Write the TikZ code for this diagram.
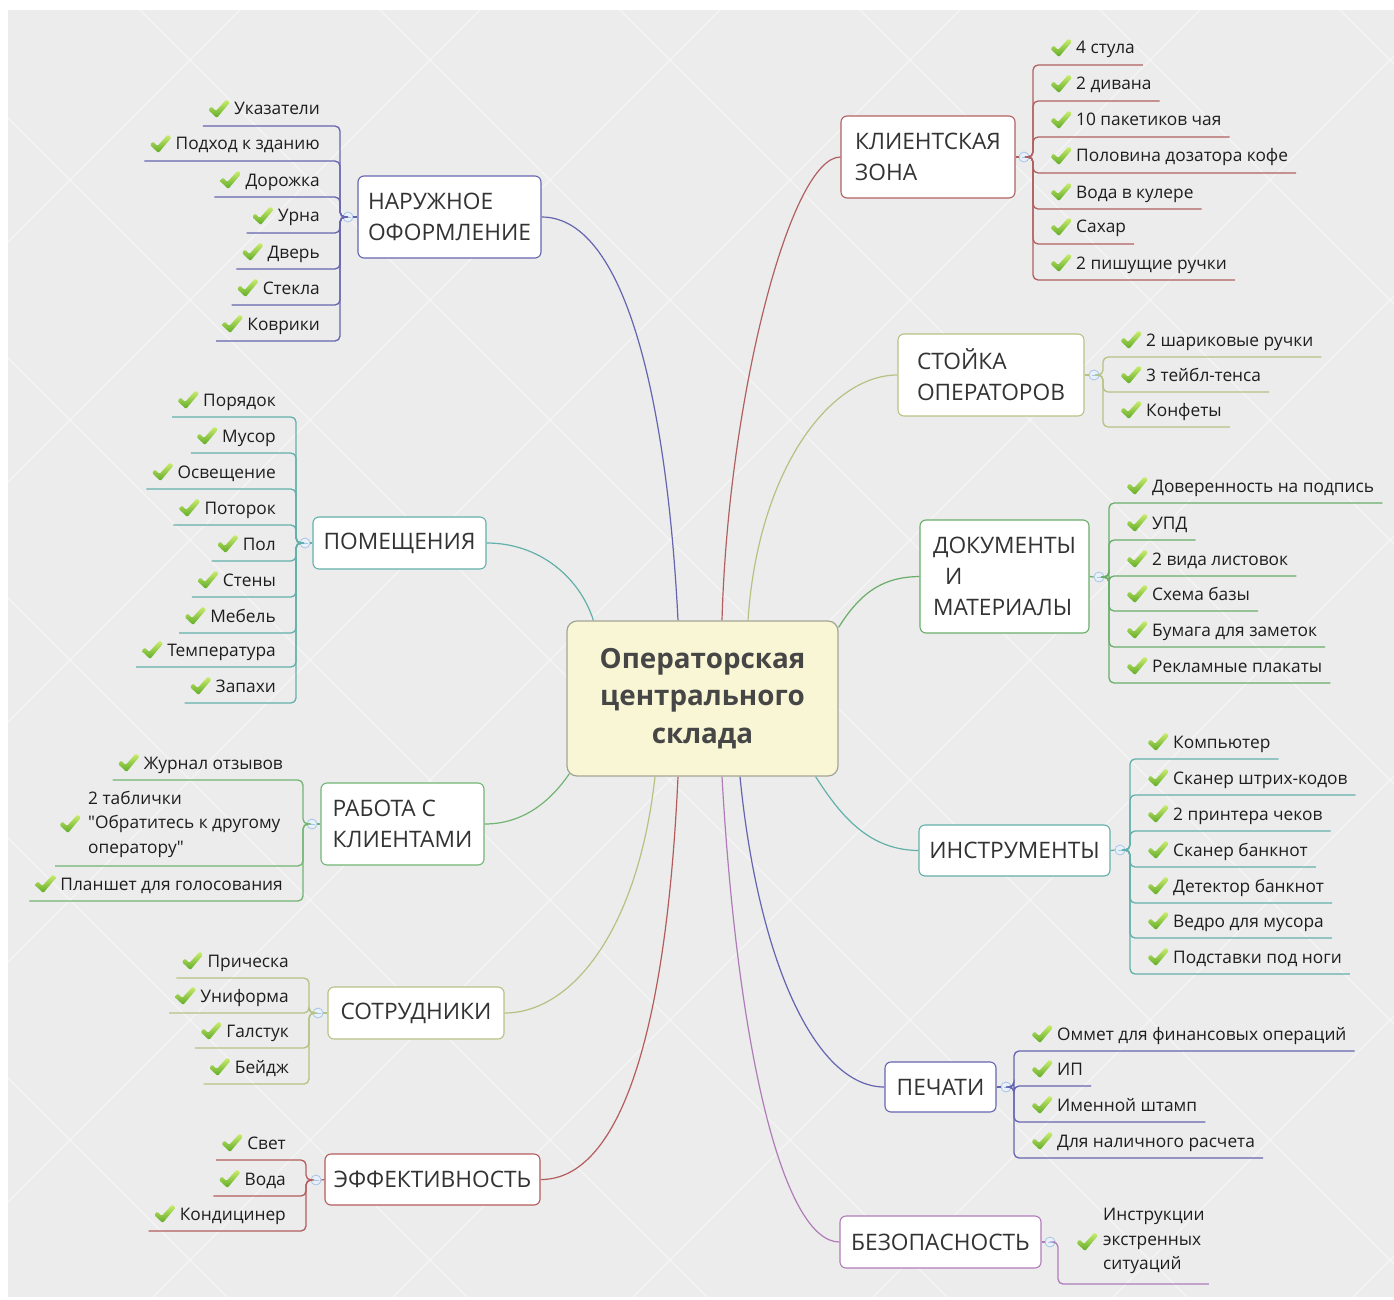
\documentclass[tikz,border=0pt]{standalone}
\usepackage{fontspec}
\newfontfamily\osf{Open Sans}
\usetikzlibrary{calc}
\definecolor{bgc}{HTML}{ECECEC}
\definecolor{leaftxt}{HTML}{1E1E1E}
\definecolor{toptxt}{HTML}{333333}
\definecolor{centxt}{HTML}{464646}
\definecolor{cenf}{HTML}{F8F6D4}
\definecolor{cenb}{HTML}{A4A496}
\definecolor{knobc}{HTML}{A8C4E6}
\definecolor{knobf}{HTML}{E8F0FA}
\definecolor{chkA}{HTML}{CDEE70}
\definecolor{chkB}{HTML}{5EAA26}
\definecolor{cN}{HTML}{6464B0}
\definecolor{cK}{HTML}{B06060}
\definecolor{cS}{HTML}{B4C282}
\definecolor{cD}{HTML}{68AE68}
\definecolor{cI}{HTML}{62B0AA}
\definecolor{cP}{HTML}{6464B0}
\definecolor{cB}{HTML}{B07CB8}
\definecolor{cM}{HTML}{62B0AA}
\definecolor{cR}{HTML}{72B472}
\definecolor{cT}{HTML}{B4C282}
\definecolor{cE}{HTML}{B45C5C}
\pgfdeclarelayer{back}
\pgfsetlayers{back,main}
\tikzset{
  leaf/.style={inner sep=0pt, font=\osf\fontsize{17.3}{20}\selectfont, text=leaftxt},
  leafm/.style={inner sep=0pt, align=left, font=\osf\fontsize{17.3}{24.5}\selectfont, text=leaftxt},
  topic/.style={draw=#1, fill=white, rounded corners=6pt, line width=1.1pt,
    font=\osf\fontsize{22.7}{31}\selectfont, text=toptxt, align=left, inner sep=0pt},
  ul/.style={draw=#1, line width=1.3pt, rounded corners=5pt},
  link/.style={draw=#1, line width=1.2pt},
  bgline/.style={draw=white, line width=1.2pt, opacity=0.45},
  knob/.style={circle, draw=knobc, fill=knobf, line width=0.8pt, minimum size=10pt, inner sep=0pt,
    path picture={\draw[knobc, line width=0.8pt]
      ([xshift=-2.5pt]path picture bounding box.center) -- ([xshift=2.5pt]path picture bounding box.center);}},
  chk/.pic={\path[top color=chkA, bottom color=chkB, rounded corners=1.3pt]
    (-10.5,1) -- (-7.5,-2.5) -- (-3,2) -- (7.5,-9.5) -- (11,-6.5) -- (-2,9) -- cycle;}
}
% left leaf: name, spineX, ulY, text, knob, colour
\newcommand\leafL[6]{%
  \node[leaf, anchor=base east] (#1) at (#2-20,#3-11) {\hspace*{26pt}#4};
  \path ($(#1.base west)+(11,-6)$) pic {chk};
  \coordinate (#1s) at (#2,#3);
  \draw[ul=#6] (#5.west) -| (#1s) -- ($(#1.base west)+(-5,11)$);
}
% right leaf
\newcommand\leafR[6]{%
  \node[leaf, anchor=base west] (#1) at (#2+17,#3-11) {\hspace*{26pt}#4};
  \path ($(#1.base west)+(11,-6)$) pic {chk};
  \coordinate (#1s) at (#2,#3);
  \draw[ul=#6] (#5.east) -| (#1s) -- ($(#1.base east)+(8,11)$);
}
\begin{document}
\begin{tikzpicture}[x=1pt,y=-1pt]
\useasboundingbox (0,0) rectangle (1394,1300);
\begin{pgfonlayer}{back}
\fill[white] (0,0) rectangle (1394,1300);
\fill[bgc] (8,10) rectangle (1394,1297);
\begin{scope}
\clip (8,10) rectangle (1394,1297);
\foreach \i in {-1300,-1060,...,1500} {\draw[bgline] (\i,10) -- ++(1300,1300);}
\foreach \i in {0,240,...,2800} {\draw[bgline] (\i,10) -- ++(-1300,1300);}
\end{scope}
\end{pgfonlayer}

% central topic
\node[draw=cenb, fill=cenf, rounded corners=10pt, line width=1.2pt, minimum width=271pt, minimum height=155pt,
  align=center, inner sep=0pt, font=\osf\bfseries\fontsize{27.8}{37.5}\selectfont, text=centxt]
  (c) at (702.5,698.5) {Операторская\\центрального\\склада};

% main topics
\node[topic=cN, minimum width=183pt, minimum height=82pt] (naruzh) at (449.5,217) {НАРУЖНОЕ\\ОФОРМЛЕНИЕ};
\node[topic=cK, minimum width=174pt, minimum height=82pt] (klient) at (928,157) {КЛИЕНТСКАЯ\\ЗОНА};
\node[topic=cS, minimum width=186pt, minimum height=82pt] (stoyka) at (991,375) {СТОЙКА\\ОПЕРАТОРОВ};
\node[topic=cD, minimum width=169pt, minimum height=113pt] (docs) at (1004.5,576.5) {ДОКУМЕНТЫ\\\hspace*{12pt}И\\МАТЕРИАЛЫ};
\node[topic=cI, minimum width=191pt, minimum height=51pt] (instr) at (1014.5,850.5) {ИНСТРУМЕНТЫ};
\node[topic=cP, minimum width=111pt, minimum height=50pt] (pechati) at (940.5,1087) {ПЕЧАТИ};
\node[topic=cB, minimum width=201pt, minimum height=52pt] (bezop) at (940.5,1242) {БЕЗОПАСНОСТЬ};
\node[topic=cM, minimum width=173pt, minimum height=52pt] (pomesh) at (399.5,543) {ПОМЕЩЕНИЯ};
\node[topic=cR, minimum width=163pt, minimum height=82pt] (rabota) at (402.5,824) {РАБОТА С\\КЛИЕНТАМИ};
\node[topic=cT, minimum width=176pt, minimum height=52pt] (sotr) at (416,1013) {СОТРУДНИКИ};
\node[topic=cE, minimum width=215pt, minimum height=51pt] (effekt) at (432.5,1179.5) {ЭФФЕКТИВНОСТЬ};

% curves from the centre
\begin{pgfonlayer}{back}
\draw[link=cN] ($(c.north)+(-24.5,0)$) .. controls (668,420) and (630,217) .. (naruzh.east);
\draw[link=cK] ($(c.north)+(19.5,0)$) .. controls (728,400) and (790,157) .. (klient.west);
\draw[link=cS] ($(c.north)+(45.5,0)$) .. controls (758,470) and (830,375) .. (stoyka.west);
\draw[link=cD] ($(c.north east)+(0,7)$) .. controls (862,590) and (885,577) .. (docs.west);
\draw[link=cI] ($(c.south east)+(-23,0)$) .. controls (842,818) and (870,850) .. (instr.west);
\draw[link=cP] ($(c.south)+(37.5,0)$) .. controls (758,960) and (815,1087) .. (pechati.west);
\draw[link=cB] ($(c.south)+(19.5,0)$) .. controls (738,1060) and (785,1242) .. (bezop.west);
\draw[link=cM] ($(c.north west)+(27,0)$) .. controls (580,578) and (540,543) .. (pomesh.east);
\draw[link=cR] ($(c.south west)+(3,-3)$) .. controls (548,805) and (520,824) .. (rabota.east);
\draw[link=cT] ($(c.south)+(-47.5,0)$) .. controls (638,930) and (572,1013) .. (sotr.east);
\draw[link=cE] ($(c.south)+(-24.5,0)$) .. controls (665,1060) and (612,1180) .. (effekt.east);
\end{pgfonlayer}

% knobs
\node[knob] (naruzhK) at (348,217) {};
\node[knob] (klientK) at (1024,157) {};
\node[knob] (stoykaK) at (1094,375) {};
\node[knob] (docsK) at (1099,577) {};
\node[knob] (instrK) at (1120,850) {};
\node[knob] (pechatiK) at (1006,1087) {};
\node[knob] (bezopK) at (1050,1242) {};
\node[knob] (pomeshK) at (305,543) {};
\node[knob] (rabotaK) at (312,824) {};
\node[knob] (sotrK) at (318,1013) {};
\node[knob] (effektK) at (316,1180) {};
\draw[link=cN] (naruzh.west) -- (naruzhK.east);
\draw[link=cK] (klient.east) -- (klientK.west);
\draw[link=cS] (stoyka.east) -- (stoykaK.west);
\draw[link=cD] (docs.east) -- (docsK.west);
\draw[link=cI] (instr.east) -- (instrK.west);
\draw[link=cP] (pechati.east) -- (pechatiK.west);
\draw[link=cB] (bezop.east) -- (bezopK.west);
\draw[link=cM] (pomesh.west) -- (pomeshK.east);
\draw[link=cR] (rabota.west) -- (rabotaK.east);
\draw[link=cT] (sotr.west) -- (sotrK.east);
\draw[link=cE] (effekt.west) -- (effektK.east);

% НАРУЖНОЕ ОФОРМЛЕНИЕ
\leafL{n1}{340}{126}{Указатели}{naruzhK}{cN}
\leafL{n2}{340}{161}{Подход к зданию}{naruzhK}{cN}
\leafL{n3}{340}{197}{Дорожка}{naruzhK}{cN}
\leafL{n4}{340}{233}{Урна}{naruzhK}{cN}
\leafL{n5}{340}{269}{Дверь}{naruzhK}{cN}
\leafL{n6}{340}{305}{Стекла}{naruzhK}{cN}
\leafL{n7}{340}{341}{Коврики}{naruzhK}{cN}

% ПОМЕЩЕНИЯ
\leafL{m1}{296}{417}{Порядок}{pomeshK}{cM}
\leafL{m2}{296}{453}{Мусор}{pomeshK}{cM}
\leafL{m3}{296}{489}{Освещение}{pomeshK}{cM}
\leafL{m4}{296}{525}{Поторок}{pomeshK}{cM}
\leafL{m5}{296}{561}{Пол}{pomeshK}{cM}
\leafL{m6}{296}{597}{Стены}{pomeshK}{cM}
\leafL{m7}{296}{633}{Мебель}{pomeshK}{cM}
\leafL{m8}{296}{667}{Температура}{pomeshK}{cM}
\leafL{m9}{296}{703}{Запахи}{pomeshK}{cM}

% РАБОТА С КЛИЕНТАМИ
\leafL{r1}{303}{780}{Журнал отзывов}{rabotaK}{cR}
\node[leafm, anchor=west] (r2) at (88,824) {2 таблички\\"Обратитесь к другому\\оператору"};
\path ($(r2.west)+(-18,0)$) pic {chk};
\coordinate (r2s) at (303,866);
\draw[ul=cR] (rabotaK.west) -| (r2s) -- ($(r2s -| r2.west)+(-33,0)$);
\leafL{r3}{303}{901}{Планшет для голосования}{rabotaK}{cR}

% СОТРУДНИКИ
\leafL{t1}{309}{978}{Прическа}{sotrK}{cT}
\leafL{t2}{309}{1013}{Униформа}{sotrK}{cT}
\leafL{t3}{309}{1048}{Галстук}{sotrK}{cT}
\leafL{t4}{309}{1084}{Бейдж}{sotrK}{cT}

% ЭФФЕКТИВНОСТЬ
\leafL{e1}{306}{1160}{Свет}{effektK}{cE}
\leafL{e2}{306}{1196}{Вода}{effektK}{cE}
\leafL{e3}{306}{1231}{Кондицинер}{effektK}{cE}

% КЛИЕНТСКАЯ ЗОНА
\leafR{k1}{1033}{65}{4 стула}{klientK}{cK}
\leafR{k2}{1033}{101}{2 дивана}{klientK}{cK}
\leafR{k3}{1033}{137}{10 пакетиков чая}{klientK}{cK}
\leafR{k4}{1033}{173}{Половина дозатора кофе}{klientK}{cK}
\leafR{k5}{1033}{209}{Вода в кулере}{klientK}{cK}
\leafR{k6}{1033}{244}{Сахар}{klientK}{cK}
\leafR{k7}{1033}{280}{2 пишущие ручки}{klientK}{cK}

% СТОЙКА ОПЕРАТОРОВ
\leafR{s1}{1103}{357}{2 шариковые ручки}{stoykaK}{cS}
\leafR{s2}{1103}{392}{3 тейбл-тенса}{stoykaK}{cS}
\leafR{s3}{1103}{427}{Конфеты}{stoykaK}{cS}

% ДОКУМЕНТЫ И МАТЕРИАЛЫ
\leafR{d1}{1109}{503}{Доверенность на подпись}{docsK}{cD}
\leafR{d2}{1109}{540}{УПД}{docsK}{cD}
\leafR{d3}{1109}{576}{2 вида листовок}{docsK}{cD}
\leafR{d4}{1109}{611}{Схема базы}{docsK}{cD}
\leafR{d5}{1109}{647}{Бумага для заметок}{docsK}{cD}
\leafR{d6}{1109}{683}{Рекламные плакаты}{docsK}{cD}

% ИНСТРУМЕНТЫ
\leafR{i1}{1130}{759}{Компьютер}{instrK}{cI}
\leafR{i2}{1130}{795}{Сканер штрих-кодов}{instrK}{cI}
\leafR{i3}{1130}{831}{2 принтера чеков}{instrK}{cI}
\leafR{i4}{1130}{867}{Сканер банкнот}{instrK}{cI}
\leafR{i5}{1130}{903}{Детектор банкнот}{instrK}{cI}
\leafR{i6}{1130}{938}{Ведро для мусора}{instrK}{cI}
\leafR{i7}{1130}{974}{Подставки под ноги}{instrK}{cI}

% ПЕЧАТИ
\leafR{p1}{1014}{1051}{Оммет для финансовых операций}{pechatiK}{cP}
\leafR{p2}{1014}{1086}{ИП}{pechatiK}{cP}
\leafR{p3}{1014}{1122}{Именной штамп}{pechatiK}{cP}
\leafR{p4}{1014}{1158}{Для наличного расчета}{pechatiK}{cP}

% БЕЗОПАСНОСТЬ
\node[leafm, anchor=west] (b1) at (1103,1241) {Инструкции\\экстренных\\ситуаций};
\path ($(b1.west)+(-16,1)$) pic {chk};
\coordinate (b1s) at (1058,1284);
\draw[ul=cB] (bezopK.east) -| (b1s) -- ($(b1s -| b1.east)+(4,0)$);
\end{tikzpicture}
\end{document}
